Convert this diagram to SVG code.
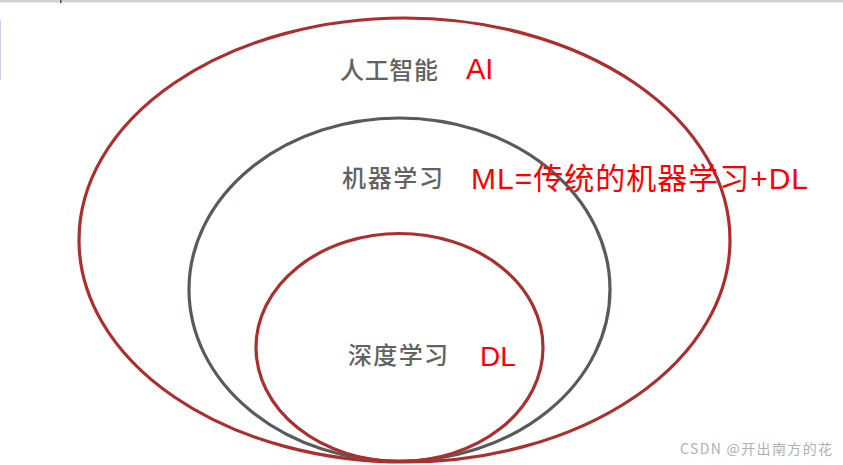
<svg xmlns="http://www.w3.org/2000/svg" width="843" height="465" viewBox="0 0 843 465">
<style>
.red{fill:none;stroke:#ad2e2e;stroke-width:3.2}
.gray{fill:none;stroke:#575b5b;stroke-width:3.2}
.cn{font-family:"Noto Sans CJK SC","Liberation Sans",sans-serif;font-size:24px;font-weight:500;fill:#626262}
.en{font-family:"Liberation Sans","Noto Sans CJK SC",sans-serif;fill:#f00}
.wm{font-family:"Noto Sans CJK SC","Liberation Sans",sans-serif;font-size:14px;fill:#b0b0b0}
</style>
<rect width="843" height="465" fill="#fff"/>
<rect x="0" y="0" width="843" height="2.5" fill="#d4d4d4"/>
<rect x="60" y="0" width="1.5" height="3" fill="#444c60"/>
<rect x="0" y="20" width="1" height="60" fill="#c8d0ee"/>
<g id="ai">
<ellipse class="red" cx="404.5" cy="240" rx="325.5" ry="222"/>
<text class="cn" x="340" y="79" textLength="98">人工智能</text>
<text class="en" x="466" y="79" font-size="29">AI</text>
</g>
<g id="ml">
<ellipse class="gray" cx="399.5" cy="289.5" rx="210.5" ry="171.5"/>
<text class="cn" x="342" y="187" textLength="101">机器学习</text>
<text class="en" x="471" y="189" font-size="30" textLength="337">ML=传统的机器学习+DL</text>
</g>
<g id="dl">
<ellipse class="red" cx="399.5" cy="347.5" rx="143.5" ry="114"/>
<text class="cn" x="348" y="364" textLength="100">深度学习</text>
<text class="en" x="480" y="366" font-size="28">DL</text>
</g>
<text class="wm" x="680" y="454" textLength="152">CSDN @开出南方的花</text>
</svg>
